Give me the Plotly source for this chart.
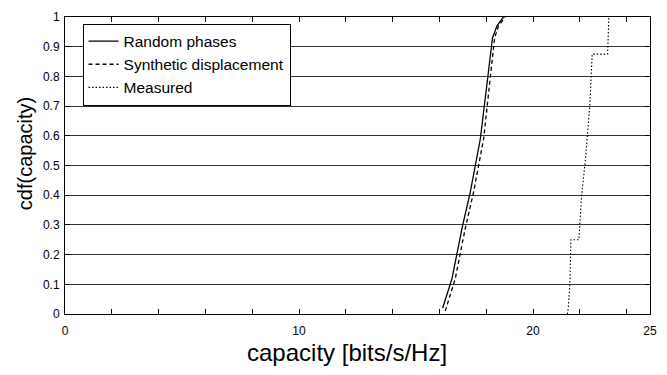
import plotly.graph_objects as go

# Data
random_x = [16.14, 16.54, 16.97, 17.32, 17.75, 18.07, 18.27, 18.46, 18.74]
random_y = [0.02, 0.12, 0.29, 0.41, 0.59, 0.80, 0.93, 0.97, 1.0]

synth_x = [16.25, 16.68, 17.11, 17.46, 17.89, 18.17, 18.36, 18.53, 18.81]
synth_y = [0.01, 0.12, 0.29, 0.41, 0.59, 0.80, 0.93, 0.97, 1.0]

meas_x = [21.47, 21.51, 21.58, 21.62, 21.96, 22.00, 22.08, 22.24, 22.33, 22.43, 22.53, 23.19, 23.24]
meas_y = [0.0, 0.02, 0.11, 0.25, 0.25, 0.30, 0.40, 0.52, 0.605, 0.704, 0.875, 0.875, 1.0]

x_tickvals = [0, 2, 4, 6, 8, 10, 12, 14, 16, 18, 20, 22, 24, 25]
x_ticktext = ["0", "", "", "", "", "10", "", "", "", "", "20", "", "", "25"]
y_tickvals = [0, 0.1, 0.2, 0.3, 0.4, 0.5, 0.6, 0.7, 0.8, 0.9, 1]
y_ticktext = ["0", "0.1", "0.2", "0.3", "0.4", "0.5", "0.6", "0.7", "0.8", "0.9", "1"]

FONT = "Liberation Sans, Arial, Helvetica, sans-serif"

fig = go.Figure()
fig.add_trace(go.Scatter(x=random_x, y=random_y, mode="lines", name="Random phases",
                         line=dict(color="black", width=1.3, dash="solid")))
fig.add_trace(go.Scatter(x=synth_x, y=synth_y, mode="lines", name="Synthetic displacement",
                         line=dict(color="black", width=1.3, dash="4px,3px")))
fig.add_trace(go.Scatter(x=meas_x, y=meas_y, mode="lines", name="Measured",
                         line=dict(color="black", width=1.1, dash="1.5px,2px")))

fig.update_layout(
    width=667, height=375,
    margin=dict(l=65, r=15, t=10, b=61),
    paper_bgcolor="white", plot_bgcolor="white",
    font=dict(family=FONT, size=12, color="black"),
    showlegend=True,
    legend=dict(x=0.030, y=0.978, xanchor="left", yanchor="top",
                bgcolor="white", bordercolor="black", borderwidth=1,
                font=dict(family=FONT, size=15.5, color="black")),
    xaxis=dict(range=[0, 25], tickvals=x_tickvals, ticktext=x_ticktext,
               ticks="inside", ticklen=5, tickcolor="black",
               showline=True, linecolor="black", linewidth=1, mirror="ticks",
               showgrid=False, zeroline=False, ticklabelstandoff=6,
               tickfont=dict(size=12)),
    yaxis=dict(range=[0, 1], tickvals=y_tickvals, ticktext=y_ticktext,
               ticks="inside", ticklen=5, tickcolor="black",
               showline=True, linecolor="black", linewidth=1, mirror="ticks",
               showgrid=True, gridcolor="#333333", gridwidth=1, zeroline=False,
               ticklabelstandoff=2, tickfont=dict(size=12)),
    annotations=[
        dict(text="capacity [bits/s/Hz]", xref="paper", yref="paper",
             x=0.482, y=-0.128, xanchor="center", yanchor="middle",
             showarrow=False, font=dict(family=FONT, size=24, color="black")),
        dict(text="cdf(capacity)", xref="paper", yref="paper",
             x=-0.068, y=0.539, xanchor="center", yanchor="middle", textangle=-90,
             showarrow=False, font=dict(family=FONT, size=20, color="black")),
    ],
)

fig.write_html("out.html")
